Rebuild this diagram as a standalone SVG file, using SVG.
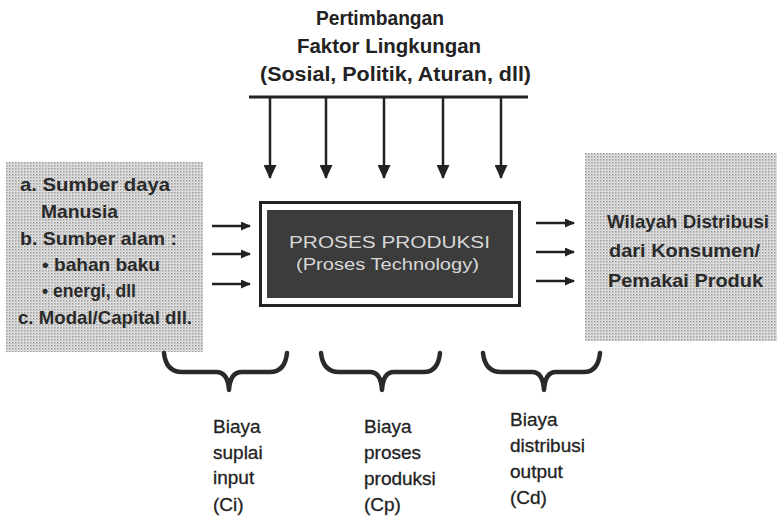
<svg xmlns="http://www.w3.org/2000/svg" width="777" height="518" viewBox="0 0 777 518">
<style>
.b{font-family:"Liberation Sans",Arial,sans-serif;font-weight:bold;font-size:18.5px;fill:#2a2a2a}
.t{font-family:"Liberation Sans",Arial,sans-serif;font-weight:bold;font-size:19.5px;fill:#222}
.r{font-family:"Liberation Sans",Arial,sans-serif;font-size:19px;fill:#222;stroke:#222;stroke-width:0.3}
.w{font-family:"Liberation Sans",Arial,sans-serif;font-size:16px;fill:#d8d8d8}
.ln{stroke:#222;stroke-width:2.5;fill:none}
.br{stroke:#2a2a2a;stroke-width:4.5;fill:none;stroke-linecap:round;stroke-linejoin:round}
</style>
<defs>
<pattern id="dots" width="3" height="3" patternUnits="userSpaceOnUse">
<rect width="3" height="3" fill="#e4e4e4"/>
<rect x="0" y="0" width="1.5" height="1.5" fill="#9a9a9a"/>
<rect x="1.5" y="1.5" width="1" height="1" fill="#b0b0b0"/>
</pattern>
<marker id="ah" markerWidth="10" markerHeight="9" refX="9" refY="4.5" orient="auto" markerUnits="userSpaceOnUse" viewBox="0 0 10 9">
<path d="M0,0 L10,4.5 L0,9 Z" fill="#222"/>
</marker>
<marker id="dh" markerWidth="14" markerHeight="13" refX="13" refY="6.5" orient="auto" markerUnits="userSpaceOnUse" viewBox="0 0 14 13">
<path d="M0,0 L14,6.5 L0,13 Z" fill="#222"/>
</marker>
</defs>
<rect width="777" height="518" fill="#fff"/>

<g id="title">
<text class="t" x="316" y="25" textLength="128" lengthAdjust="spacingAndGlyphs">Pertimbangan</text>
<text class="t" x="297" y="53" textLength="184" lengthAdjust="spacingAndGlyphs">Faktor Lingkungan</text>
<text class="t" x="260" y="81" textLength="271" lengthAdjust="spacingAndGlyphs">(Sosial, Politik, Aturan, dll)</text>
</g>

<g id="inputs">
<rect x="6" y="162" width="197" height="190" fill="url(#dots)"/>
<text class="b" x="20" y="191" textLength="150" lengthAdjust="spacingAndGlyphs">a. Sumber daya</text>
<text class="b" x="41" y="218" textLength="77" lengthAdjust="spacingAndGlyphs">Manusia</text>
<text class="b" x="20" y="245" textLength="157" lengthAdjust="spacingAndGlyphs">b. Sumber alam :</text>
<text class="b" x="42" y="271" textLength="118" lengthAdjust="spacingAndGlyphs">• bahan baku</text>
<text class="b" x="42" y="297" textLength="94" lengthAdjust="spacingAndGlyphs">• energi, dll</text>
<text class="b" x="18" y="324" textLength="174" lengthAdjust="spacingAndGlyphs">c. Modal/Capital dll.</text>
</g>

<g id="process">
<rect x="260.5" y="202.5" width="259" height="103" fill="#fff" stroke="#222" stroke-width="3"/>
<rect x="267" y="210" width="246" height="88" fill="#3c3c3c"/>
<text class="w" x="289" y="248" textLength="201" lengthAdjust="spacingAndGlyphs">PROSES PRODUKSI</text>
<text class="w" x="296" y="270" textLength="183" lengthAdjust="spacingAndGlyphs">(Proses Technology)</text>
</g>

<g id="outputs">
<rect x="585" y="153" width="192" height="188" fill="url(#dots)"/>
<text class="b" x="607" y="228" textLength="162" lengthAdjust="spacingAndGlyphs">Wilayah Distribusi</text>
<text class="b" x="609" y="257" textLength="151" lengthAdjust="spacingAndGlyphs">dari  Konsumen/</text>
<text class="b" x="608" y="287" textLength="155" lengthAdjust="spacingAndGlyphs">Pemakai Produk</text>
</g>

<g id="cost-ci">
<path class="br" d="M164,353 Q166,372 182,372 L216,372 Q228,372 229,390 Q230,372 242,372 L270,372 Q285,372 287,353"/>
<text class="r" x="213" y="433">Biaya</text>
<text class="r" x="213" y="459">suplai</text>
<text class="r" x="213" y="484">input</text>
<text class="r" x="213" y="511">(Ci)</text>
</g>

<g id="cost-cp">
<path class="br" d="M321,353 Q323,372 339,372 L370,372 Q381,372 382,390 Q383,372 394,372 L424,372 Q438,372 440,353"/>
<text class="r" x="364" y="433">Biaya</text>
<text class="r" x="364" y="459">proses</text>
<text class="r" x="364" y="485">produksi</text>
<text class="r" x="364" y="511">(Cp)</text>
</g>

<g id="cost-cd">
<path class="br" d="M483,353 Q485,372 501,372 L532,372 Q543,372 544,390 Q545,372 556,372 L584,372 Q598,372 600,353"/>
<text class="r" x="510" y="426">Biaya</text>
<text class="r" x="510" y="452">distribusi</text>
<text class="r" x="510" y="478">output</text>
<text class="r" x="510" y="504">(Cd)</text>
</g>

<g id="connectors">
<line x1="249" y1="97" x2="528" y2="97" stroke="#222" stroke-width="3"/>
<line class="ln" x1="270" y1="97" x2="270" y2="178" marker-end="url(#dh)"/>
<line class="ln" x1="326" y1="97" x2="326" y2="178" marker-end="url(#dh)"/>
<line class="ln" x1="384" y1="97" x2="384" y2="178" marker-end="url(#dh)"/>
<line class="ln" x1="443" y1="97" x2="443" y2="178" marker-end="url(#dh)"/>
<line class="ln" x1="501" y1="97" x2="501" y2="178" marker-end="url(#dh)"/>
<line class="ln" x1="212" y1="226" x2="250" y2="226" marker-end="url(#ah)"/>
<line class="ln" x1="212" y1="254" x2="250" y2="254" marker-end="url(#ah)"/>
<line class="ln" x1="212" y1="284" x2="250" y2="284" marker-end="url(#ah)"/>
<line class="ln" x1="536" y1="223" x2="574" y2="223" marker-end="url(#ah)"/>
<line class="ln" x1="536" y1="252" x2="574" y2="252" marker-end="url(#ah)"/>
<line class="ln" x1="536" y1="281" x2="574" y2="281" marker-end="url(#ah)"/>
</g>
</svg>
